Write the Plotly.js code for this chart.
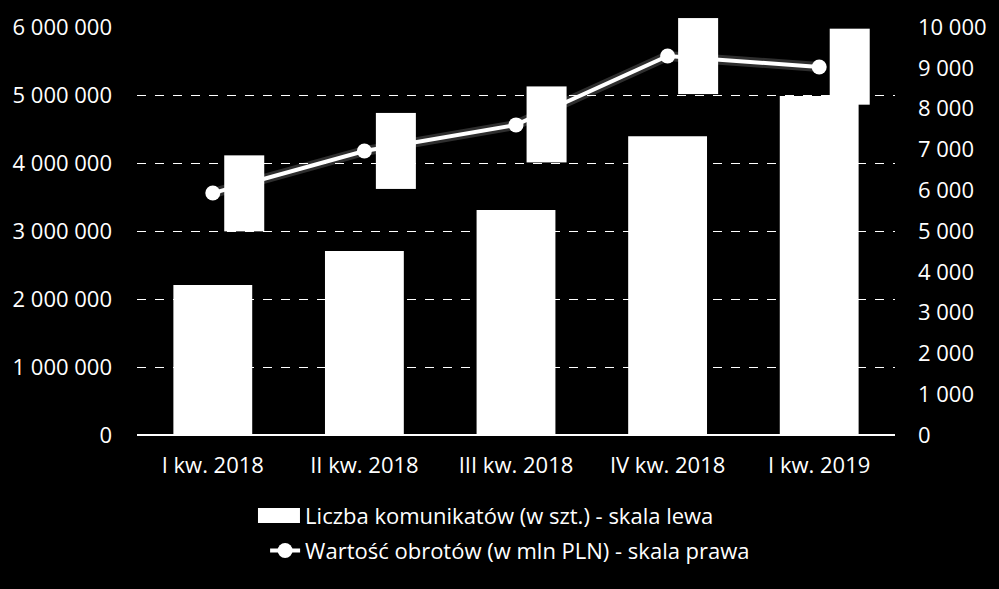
<!DOCTYPE html>
<html>
<head>
<meta charset="utf-8">
<script src="https://cdn.plot.ly/plotly-3.0.1.min.js"></script>
<style>html,body{margin:0;padding:0;background:#000;}#chart{width:999px;height:589px;}</style>
</head>
<body>
<div id="chart"></div>
<script>
var categories = ["I kw. 2018", "II kw. 2018", "III kw. 2018", "IV kw. 2018", "I kw. 2019"];
var messages = [2205000, 2705000, 3310000, 4395000, 4985000];
var turnover = [5930, 6960, 7600, 9290, 9020];
var messagesName = "Liczba komunikatów (w szt.) - skala lewa";
var turnoverName = "Wartość obrotów (w mln PLN) - skala prawa";

var FONT = "'Open Sans', 'Noto Sans', sans-serif";
var FS = 22;

var traces = [
  {
    type: "bar", x: categories, y: messages, name: messagesName,
    marker: {color: "#ffffff", line: {width: 0}},
    width: 0.52, yaxis: "y", legendgroup: "a", hoverinfo: "skip"
  },
  {
    type: "scatter", mode: "lines", x: categories, y: turnover, showlegend: false,
    line: {color: "rgba(255,255,255,0.18)", width: 10}, marker: {size: 0},
    yaxis: "y2", hoverinfo: "skip"
  },
  {
    type: "scatter", mode: "lines+markers", x: categories, y: turnover, name: turnoverName,
    line: {color: "#ffffff", width: 4}, marker: {color: "#ffffff", size: 15},
    yaxis: "y2", legendgroup: "b", hoverinfo: "skip"
  }
];

var annotations = categories.map(function (c, i) {
  return {
    x: c, y: turnover[i], xref: "x", yref: "y2",
    text: turnover[i].toLocaleString("pl-PL").replace(/\u00a0/g, " "),
    showarrow: false, xshift: 31, textangle: -90,
    width: 73, height: 37, bgcolor: "#ffffff",
    font: {family: FONT, size: 16, color: "#ffffff"}
  };
});

var layout = {
  width: 999, height: 589,
  paper_bgcolor: "#000000", plot_bgcolor: "#000000",
  margin: {l: 137, r: 104, t: 27, b: 154, pad: 0},
  separators: ", ",
  font: {family: FONT, size: FS, color: "#ffffff"},
  bargap: 0.48,
  showlegend: true,
  legend: {
    x: 0.169, xanchor: "left", y: -0.145, yanchor: "top",
    font: {family: FONT, size: FS, color: "#ffffff"},
    bgcolor: "rgba(0,0,0,0)", traceorder: "grouped", tracegroupgap: 4
  },
  xaxis: {
    type: "category", showgrid: false, zeroline: false, showline: false,
    ticks: "", tickfont: {family: FONT, size: FS, color: "#ffffff"}, ticklabelstandoff: 15
  },
  yaxis: {
    range: [0, 6000000], dtick: 1000000, tickformat: ",d",
    showgrid: true, gridcolor: "#ffffff", griddash: "dash", gridwidth: 1,
    zeroline: true, zerolinecolor: "#ffffff", zerolinewidth: 2,
    showline: false, ticks: "", ticklabelstandoff: 24,
    tickfont: {family: FONT, size: FS, color: "#ffffff"}
  },
  yaxis2: {
    range: [0, 10000], dtick: 1000, tickformat: ",d",
    overlaying: "y", side: "right", showgrid: false, zeroline: false,
    showline: false, ticks: "", ticklabelstandoff: 22,
    tickfont: {family: FONT, size: FS, color: "#ffffff"}
  },
  shapes: [
    {type: "rect", xref: "paper", yref: "paper", x0: 0.1596, x1: 0.215, y0: -0.2157, y1: -0.1789,
     fillcolor: "#ffffff", line: {width: 0}, layer: "above"}
  ],
  annotations: annotations
};

Plotly.newPlot("chart", traces, layout, {displayModeBar: false, staticPlot: true});
</script>
</body>
</html>
